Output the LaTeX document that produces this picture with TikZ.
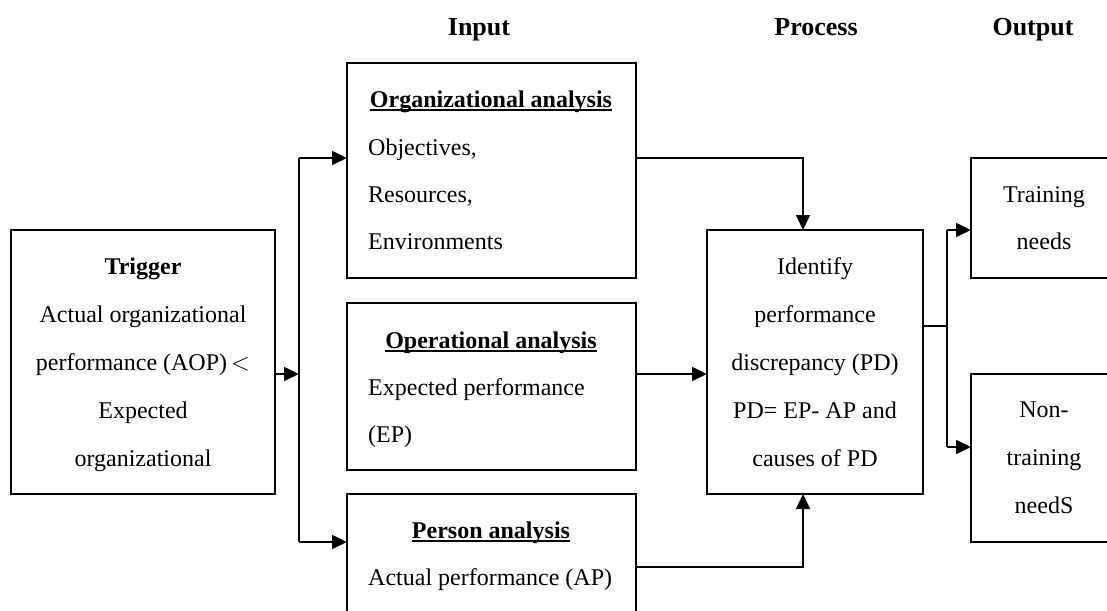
\documentclass[tikz,border=0pt]{standalone}
\usepackage{fontspec}
\setmainfont{Liberation Serif}
\usetikzlibrary{arrows.meta}
\tikzset{
  box/.style={draw, line width=1.6pt, inner sep=0pt, outer sep=0pt, anchor=north west},
  txt/.style={font=\fontsize{24}{24}\selectfont, inner sep=0pt, anchor=base},
  txtl/.style={txt, anchor=base west},
  head/.style={font=\fontsize{26}{26}\selectfont\bfseries, inner sep=0pt, anchor=base},
  conn/.style={line width=1.6pt, -{Triangle[length=15pt,width=14pt]}},
  link/.style={line width=1.6pt}
}
% underlined heading with a firm rule just below the baseline
\newcommand{\ulhead}[1]{\setbox0\hbox{#1}\rlap{\rule[-4pt]{\wd0}{1.9pt}}\box0}
\begin{document}
\begin{tikzpicture}[x=1pt,y=-1pt]
  \useasboundingbox (0,0) rectangle (1107,610);
  \clip (0,0) rectangle (1107,610);

  % column headings
  \node[head] (hin)  at (479,36) {Input};
  \node[head] (hpr)  at (816,36) {Process};
  \node[head] (hout) at (1033,36) {Output};

  % boxes
  \node[box, minimum width=264pt, minimum height=264pt] (trig) at (11,230) {};
  \node[box, minimum width=289pt, minimum height=215pt] (org)  at (347,63) {};
  \node[box, minimum width=289pt, minimum height=167pt] (oper) at (347,303) {};
  \node[box, minimum width=289pt, minimum height=130pt] (pers) at (347,494) {};
  \node[box, minimum width=216pt, minimum height=264pt] (proc) at (707,230) {};
  \node[box, minimum width=150pt, minimum height=120pt] (tn)   at (971,158) {};
  \node[box, minimum width=150pt, minimum height=168pt] (ntn)  at (971,374) {};

  % trigger text
  \node[txt] (t1) at (143,274) {\bfseries Trigger};
  \node[txt] (t2) at (143,322) {Actual organizational};
  \node[txt] (t3) at (143,370) {performance (AOP)\,$<$};
  \node[txt] (t4) at (143,418) {Expected};
  \node[txt] (t5) at (143,466) {organizational};

  % organizational analysis
  \node[txt]  (o1) at (491,107) {\bfseries\ulhead{Organizational analysis}};
  \node[txtl] (o2) at (368,155) {Objectives,};
  \node[txtl] (o3) at (368,202) {Resources,};
  \node[txtl] (o4) at (368,249) {Environments};

  % operational analysis
  \node[txt]  (p1) at (491,348) {\bfseries\ulhead{Operational analysis}};
  \node[txtl] (p2) at (368,395) {Expected performance};
  \node[txtl] (p3) at (368,442) {(EP)};

  % person analysis
  \node[txt]  (q1) at (491,538) {\bfseries\ulhead{Person analysis}};
  \node[txtl] (q2) at (368,585) {Actual performance (AP)};

  % process
  \node[txt] (r1) at (815,274) {Identify};
  \node[txt] (r2) at (815,322) {performance};
  \node[txt] (r3) at (815,370) {discrepancy (PD)};
  \node[txt] (r4) at (815,418) {PD= EP- AP and};
  \node[txt] (r5) at (815,466) {causes of PD};

  % outputs
  \node[txt] (s1) at (1044,202) {Training};
  \node[txt] (s2) at (1044,249) {needs};
  \node[txt] (u1) at (1044,417) {Non-};
  \node[txt] (u2) at (1044,465) {training};
  \node[txt] (u3) at (1044,513) {needS};

  % junction points
  \coordinate (j1) at (299,374);
  \coordinate (j2) at (947,326);

  % trigger to the three analyses
  \draw[conn] (trig.east |- j1) -- (j1);
  \draw[link] (299,158) -- (299,542);
  \draw[conn] (299,158) -- (org.west |- 0,158);
  \draw[conn] (299,542) -- (pers.west |- 0,542);

  % analyses to process
  \draw[conn] (org.east |- 0,158) -| (proc.north -| 803,0);
  \draw[conn] (oper.east |- 0,374) -- (proc.west |- 0,374);
  \draw[conn] (pers.east |- 0,567) -| (proc.south -| 803,0);

  % process to outputs
  \draw[link] (proc.east |- j2) -- (j2);
  \draw[link] (947,230) -- (947,447);
  \draw[conn] (947,230) -- (tn.west |- 0,230);
  \draw[conn] (947,447) -- (ntn.west |- 0,447);
\end{tikzpicture}
\end{document}
